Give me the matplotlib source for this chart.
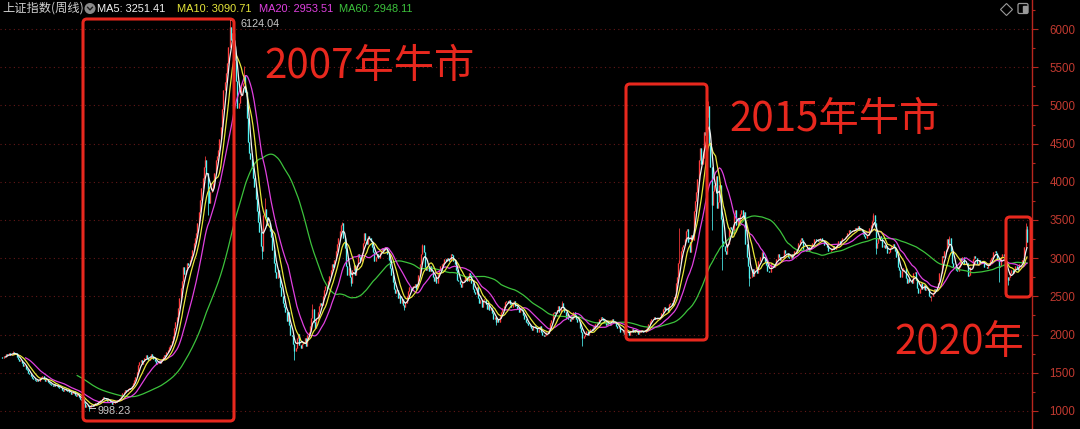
import numpy as np
import pandas as pd
import matplotlib
matplotlib.use("Agg")
import matplotlib.pyplot as plt
from matplotlib.patches import FancyBboxPatch, Circle, Rectangle
from matplotlib.lines import Line2D
from matplotlib.transforms import Affine2D
from matplotlib.ticker import MultipleLocator

W, H = 1080, 429

# weekly closes of the Shanghai Composite
closes_2004_05 = [
    1707, 1690, 1725, 1712, 1740, 1731, 1755, 1728, 1748, 1770, 1752, 1760,
    1712, 1680, 1655, 1668, 1628, 1590, 1603, 1556, 1532, 1500,
    1478, 1462, 1430, 1421, 1405, 1390, 1412, 1387, 1430, 1445,
    1462, 1418, 1396, 1410, 1378, 1366, 1352, 1340, 1331, 1350, 1322, 1336, 1314,
    1298, 1305, 1280, 1268, 1291, 1272, 1256, 1275,
    1246, 1221, 1238, 1255, 1212, 1198, 1220, 1183,
    1160, 1142, 1158, 1098, 1052, 1075, 1063, 1040,
]
closes_2005_06 = [
    1058, 1082, 1071, 1096, 1110, 1088, 1124, 1135, 1144, 1162, 1183,
    1170, 1158, 1130, 1142, 1115, 1118, 1096, 1110, 1128, 1118,
    1142, 1160, 1175, 1198, 1235, 1252, 1275,
    1268, 1292, 1300, 1288, 1330, 1362, 1405, 1440, 1512, 1596, 1640,
    1672, 1618, 1655, 1690, 1730, 1700, 1668, 1695, 1752, 1720,
    1682, 1648, 1612, 1622, 1655, 1628, 1668, 1702, 1736, 1722, 1770, 1802, 1838,
]
closes_2006_07 = [
    1870, 1915, 1978, 2090, 2168, 2230, 2345, 2480, 2610, 2700, 2885,
    2790, 2850, 2932, 2912, 2975, 3030, 3110, 3195, 3260, 3330,
    3465, 3610, 3760, 3920, 4050, 4190, 4285,
    4110, 3890, 3720, 3870, 3915, 3985, 4120, 4280, 4340, 4415,
    4560, 4720, 4950, 5200, 5310, 5420, 5560, 5770, 6030,
]
closes_2007_08 = [
    5860, 5950, 5780, 5600, 5320, 4960, 5030,
    5120, 5260, 5290, 5400, 5180, 4830, 4520, 4380,
    4300, 4180, 4050, 3930, 3780, 3620, 3480, 3340, 3160, 3090, 3560, 3650, 3540, 3430,
    3460, 3360, 3280, 3110, 2940, 2820, 2740, 2850, 2760, 2620, 2510, 2420, 2360,
    2300, 2180, 2290, 2120, 2000, 1980, 1880, 1780, 1820,
]
closes_2008_09 = [
    1960, 2010, 1870, 1830, 1880, 1900, 1960, 1850, 1990, 2040, 2110, 2220, 2330,
    2160, 2090, 2200, 2290, 2370, 2410, 2390, 2500, 2580, 2630, 2610,
    2700, 2770, 2850, 2930, 2880, 2980, 3090, 3180, 3270, 3350, 3440, 3460,
    3260, 3130, 2900, 2780, 2870, 2750, 2680, 2850, 2910,
    2780, 2900, 3050, 3010, 2960, 3070, 3200, 3330, 3240, 3190, 3290, 3270, 3230,
]
closes_2010_12 = [
    3150, 3080, 2960, 3010, 3050, 3000, 3070, 3100, 3130, 3110, 3150,
    3130, 3060, 2980, 2870, 2780, 2690, 2600, 2545, 2580, 2480, 2510, 2420, 2460, 2390, 2360,
    2420, 2500, 2570, 2620, 2580, 2620, 2640, 2660, 2600, 2650, 2780, 2920, 3050, 3170,
    3080, 2880, 2840, 2880, 2830, 2900, 2830, 2760, 2700, 2750,
    2680, 2790, 2850, 2900, 2920, 2940, 2990, 2960, 3000, 2990, 2960, 3050, 3040,
    2960, 2920, 2850, 2720, 2700, 2660, 2620, 2700, 2715,
    2750, 2760, 2700, 2810, 2780, 2680, 2600, 2560, 2530, 2620, 2480, 2420, 2450, 2360, 2450,
    2470, 2400, 2330, 2390, 2320, 2350, 2280, 2200, 2230, 2160, 2200, 2165,
    2240, 2290, 2350, 2380, 2430, 2440, 2410, 2450,
]
closes_2012_14 = [
    2400, 2360, 2410, 2440, 2370, 2330, 2350, 2290, 2330, 2320,
    2250, 2200, 2170, 2150, 2120, 2110, 2090, 2060, 2110, 2100,
    2080, 2040, 2070, 2110, 2030, 2000, 1980, 1990, 2030, 2020,
    2070, 2150, 2190, 2280, 2300, 2280, 2320, 2380, 2290, 2360, 2410,
    2360, 2290, 2220, 2270, 2200, 2180, 2230, 2200, 2300, 2250, 2210, 2160, 2170, 2090, 2030, 1950,
    1980, 2010, 2050, 2000, 2040, 2070, 2060, 2100, 2080, 2140, 2170, 2150, 2200, 2230, 2215,
    2190, 2160, 2130, 2180, 2140, 2130, 2180, 2200, 2170, 2150, 2110, 2090, 2100, 2040, 2030,
    2060, 2010, 2050, 2030, 2035,
    2000, 2050, 2070, 2040, 2060, 2030, 2050, 2010, 2030, 2060, 2050, 2040, 2030, 2070, 2100,
    2140, 2180, 2200, 2210, 2230, 2200, 2200,
    2220, 2210, 2230, 2280, 2330, 2360, 2320, 2350, 2300, 2400, 2420, 2390, 2450, 2490, 2680,
    2760, 2940, 2975, 3100, 3150, 3170, 3250,
]
closes_2015 = [
    3350, 3376, 3210, 3075, 3310, 3241, 3617, 3748, 3863, 4034, 4287, 4441, 4229, 4308,
    4657, 4611, 4850, 4990,
    4480, 4190, 3690, 3880, 3960, 4070, 3660, 3740, 3960, 3510, 3230, 3160, 3100, 3050,
    3180, 3390, 3410, 3380, 3320, 3580, 3630, 3440, 3520, 3430, 3580, 3630, 3540, 3600,
    3190, 3020, 2900, 2740,
]
closes_2016_20 = [
    2760, 2860, 2770, 2860, 2880, 2810, 2960, 3010, 3010, 3080, 3000, 2950,
    2910, 2830, 2820, 2820, 2940, 2930, 2890, 2930, 2990, 3050, 3010, 2980,
    3000, 3000, 3110, 3070, 3070, 3020, 3000, 3050, 3000, 3060, 3100, 3110,
    3120, 3200, 3240, 3260, 3240, 3120, 3120, 3100,
    3150, 3110, 3120, 3160, 3200, 3250, 3250, 3240, 3220, 3240, 3260, 3220,
    3230, 3170, 3170, 3150, 3100, 3090, 3110, 3120, 3160, 3120, 3160, 3190,
    3220, 3180, 3240, 3270, 3260, 3270, 3290, 3330, 3370, 3350, 3350, 3350,
    3370, 3390, 3380, 3420, 3370, 3380, 3350, 3320, 3290, 3260, 3300, 3310,
    3390, 3430, 3490, 3560, 3460, 3130, 3200, 3260, 3290, 3270, 3150, 3170,
    3130, 3160, 3070, 3080, 3130, 3160, 3190, 3140, 3100, 3020, 2890, 2850,
    2750, 2830, 2870, 2870, 2740, 2670, 2730, 2690, 2700, 2680, 2800, 2820,
    2720, 2610, 2550, 2600, 2680, 2600, 2650, 2590, 2600, 2590, 2510, 2490,
    2510, 2550, 2600, 2590, 2620, 2680, 2800, 2800, 3030, 3020, 3100, 3090,
    3250, 3190, 3270, 3090, 2940, 2880, 2880, 2850, 2830, 2880, 3000, 2980,
    3010, 2930, 2920, 2940, 2770, 2780, 2880, 2890, 2990, 3030, 3000, 2930,
    2910, 2970, 2940, 2950, 2960, 2890, 2890, 2870, 2910, 2970, 3000, 3010,
    3080, 3090, 3070, 2980, 2880, 2900, 3010, 3050, 3030, 2890, 2750, 2720,
    2760, 2800, 2840, 2810, 2860, 2900, 2870, 2850, 2920, 2920, 2970, 2980,
    3150, 3380, 3214,
]

# wick extremes of notable weeks (week index -> price)
wick_highs = {9: 1783, 158: 4335, 177: 6124.04, 188: 5522, 204: 3786, 241: 2400,
              264: 3478, 326: 3186, 434: 2444, 525: 3400, 547: 5060, 675: 3587,
              734: 3288, 793: 3458, 794: 3420}
wick_lows = {68: 998.23, 160: 3560, 202: 2990, 227: 1664, 271: 2639, 312: 2319,
             383: 2132, 450: 1849, 550: 3370, 558: 2850, 579: 2640, 677: 3060,
             720: 2440, 772: 2685, 779: 2646}

header_title = "上证指数(周线)"
ma_periods = [5, 10, 20, 60]
ma_labels = ["MA5: 3251.41", "MA10: 3090.71", "MA20: 2953.51", "MA60: 2948.11"]
ma_colors = ["#f2f2f2", "#e6e63a", "#e040e0", "#3cc23c"]

UP = "#ff3c3c"
DOWN = "#4ff4f4"
RED = "#e8281e"
CJK = ["Noto Sans CJK SC", "DejaVu Sans"]

closes = np.array(closes_2004_05 + closes_2005_06 + closes_2006_07 + closes_2007_08
                  + closes_2008_09 + closes_2010_12 + closes_2012_14 + closes_2015
                  + closes_2016_20, dtype=float)
n = len(closes)
opens = np.concatenate([[closes[0]], closes[:-1]])
highs = np.maximum(opens, closes)
lows = np.minimum(opens, closes)
for i, v in wick_highs.items():
    highs[i] = v
for i, v in wick_lows.items():
    lows[i] = v
idx = np.arange(n)
up = closes >= opens

fig = plt.figure(figsize=(W / 100, H / 100), dpi=100, facecolor="black")
# pixel coordinates of the picture, y pointing down
pix = Affine2D().scale(1 / W, -1 / H).translate(0, 1) + fig.transFigure

ax = fig.add_axes([0, 0, 1032 / W, 1])
ax.set_facecolor("black")
step = 1026 / (n - 1)
ax.set_xlim(-1 / step, 1031 / step)
ax.set_ylim(764, 6380)

for s in ["top", "left", "bottom"]:
    ax.spines[s].set_visible(False)
ax.spines["right"].set_color("#b8261e")
ax.spines["right"].set_linewidth(1.0)
ax.set_xticks([])
ax.yaxis.tick_right()
ax.yaxis.set_major_locator(MultipleLocator(500))
ax.yaxis.set_minor_locator(MultipleLocator(250))
ax.tick_params(axis="y", which="major", length=4.5, width=0.8, color="#b8261e",
               labelcolor="#c23a30", labelsize=8.3, pad=8)
ax.tick_params(axis="y", which="minor", length=2.5, width=0.8, color="#b8261e")
for lab in ax.get_yticklabels():
    lab.set_fontfamily("Liberation Sans")
ax.grid(axis="y", which="major", color="#641818", linestyle=(0, (1, 3)), linewidth=0.8)

# candles
ax.vlines(idx[up], lows[up], highs[up], color=UP, lw=0.55, zorder=2)
ax.vlines(idx[up], opens[up], closes[up], color=UP, lw=0.95, zorder=2)
ax.vlines(idx[~up], lows[~up], highs[~up], color=DOWN, lw=0.55, zorder=2)
ax.vlines(idx[~up], closes[~up], opens[~up], color=DOWN, lw=0.95, zorder=2)

# moving averages
for k, c, z in zip(ma_periods[::-1], ma_colors[::-1], [3, 4, 5, 6]):
    ma = pd.Series(closes).rolling(k).mean()
    ax.plot(idx, ma, color=c, lw=0.9, zorder=z)

# extreme value labels
i_hi = int(np.argmax(highs))
i_lo = int(np.argmin(lows))
ax.plot([i_hi + 0.5, i_hi + 2.5], [highs[i_hi]] * 2, color="#c8c8c8", lw=0.7, zorder=7)
ax.annotate(f"{highs[i_hi]:.2f}", (i_hi, highs[i_hi]), xytext=(8, -3),
            textcoords="offset points", va="center", ha="left", color="#c8c8c8",
            fontsize=7.8, family="Liberation Sans", zorder=7)
ax.plot([i_lo, i_lo + 5], [lows[i_lo] + 40] * 2, color="#c8c8c8", lw=0.7, zorder=7)
ax.annotate(f"{lows[i_lo]:.2f}", (i_lo, lows[i_lo]), xytext=(6.5, 0),
            textcoords="offset points", va="center", ha="left", color="#c8c8c8",
            fontsize=7.8, family="Liberation Sans", zorder=7)

# header
fig.text(2, 8.5, header_title, transform=pix, va="center", ha="left", fontsize=8.8,
         color="#d0d0d0", family=CJK)
fig.add_artist(Circle((90, 8.5), 4.8, transform=pix, color="#8a8a8a"))
fig.add_artist(Line2D([87.6, 90, 92.4], [7.3, 9.9, 7.3], transform=pix, color="#1a1a1a", lw=1.0))
for x0, txt, c in zip([97, 177, 259, 339], ma_labels, ma_colors):
    fig.text(x0, 8.5, txt, transform=pix, va="center", ha="left", fontsize=7.9,
             color=c, family="Liberation Sans")

# top right icons
fig.add_artist(Line2D([1006], [8.5], transform=pix, marker="D", markersize=6.5,
                      markerfacecolor="none", markeredgecolor="#9a9a9a", markeredgewidth=0.8))
fig.add_artist(FancyBboxPatch((1018, 3.5), 10, 10, boxstyle="round,pad=0,rounding_size=1.5",
                              transform=pix, fill=False, edgecolor="#9a9a9a", lw=0.9))
fig.add_artist(Rectangle((1023, 5.5), 3.5, 6, transform=pix, color="#9a9a9a"))

# highlight boxes and captions
for x0, y0, x1, y1 in [(83, 19, 234, 421), (626, 84, 707, 340), (1006, 217, 1031, 297)]:
    fig.add_artist(FancyBboxPatch((x0, y0), x1 - x0, y1 - y0,
                                  boxstyle="round,pad=0,rounding_size=4",
                                  transform=pix, fill=False, edgecolor=RED, lw=2.2, zorder=10))
for x0, y0, txt in [(264, 78, "2007年牛市"), (729, 131, "2015年牛市"), (894, 354, "2020年")]:
    fig.text(x0, y0, txt, transform=pix, va="baseline", ha="left", fontsize=29,
             color=RED, family=CJK, zorder=10)

fig.savefig("out.png", dpi=100, facecolor="black")
